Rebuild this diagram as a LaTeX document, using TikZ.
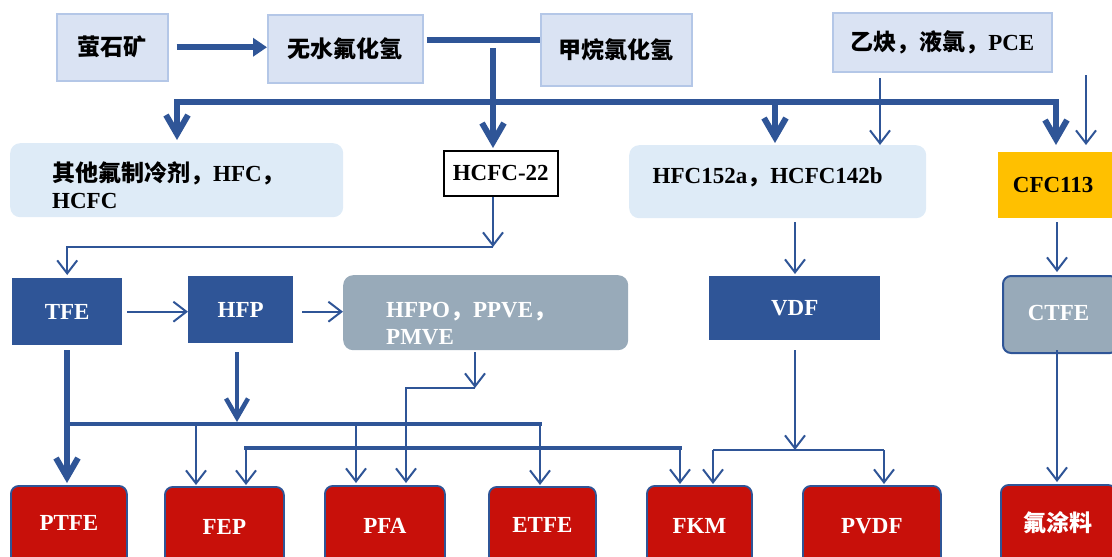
\documentclass[tikz,border=0pt]{standalone}
\usepackage{fontspec}
\setmainfont{Liberation Serif}
\newfontfamily\cjk{Noto Sans CJK SC}
\usetikzlibrary{arrows.meta}
\definecolor{flowblue}{HTML}{2F5597}
\definecolor{paleblue}{HTML}{DAE3F3}
\definecolor{paleedge}{HTML}{B4C7E7}
\definecolor{mistblue}{HTML}{DEEBF7}
\definecolor{slate}{HTML}{98AAB9}
\definecolor{gold}{HTML}{FFC000}
\definecolor{product}{HTML}{C8100A}
\newcommand{\zh}[1]{{\cjk #1}}
\begin{document}
\begin{tikzpicture}[x=1pt,y=-1pt,
  every node/.style={inner sep=0pt, font=\fontsize{23}{27}\selectfont\bfseries},
  blk/.style 2 args={anchor=north west, minimum width=#1, minimum height=#2},
  rawbox/.style={fill=paleblue, draw=paleedge, line width=1.5pt},
  softbox/.style={fill=mistblue, rounded corners=10pt},
  keybox/.style={fill=white, draw=black, line width=1.5pt},
  goldbox/.style={fill=gold},
  monobox/.style={fill=flowblue, text=white},
  greybox/.style={fill=slate, rounded corners=10pt, text=white},
  ctfebox/.style={fill=slate, draw=flowblue, line width=2pt, rounded corners=8pt, text=white},
  prodbox/.style={fill=product, draw=flowblue, line width=1.8pt, rounded corners=8pt, text=white},
  heavy/.style={draw=flowblue, line width=6pt},
  medium/.style={draw=flowblue, line width=4.5pt},
  slim/.style={draw=flowblue, line width=2pt},
  slimtip/.style={-{Straight Barb[length=13pt,width=20pt]}},
  heavytip/.style={-{Straight Barb[length=19pt,width=22pt]}},
  filltip/.style={-{Triangle[length=14pt,width=18pt]}}]

\useasboundingbox (0,0) rectangle (1112,557);
\clip (0,0) rectangle (1112,557);

% raw materials
\node[rawbox, blk={111pt}{67pt}] (ore) at (56,13) {\zh{萤石矿}};
\node[rawbox, blk={155pt}{68pt}] (acid) at (267,14) {\zh{无水氟化氢}};
\node[rawbox, blk={151pt}{72pt}] (methane) at (540,13) {\zh{甲烷氯化氢}};
\node[rawbox, blk={219pt}{59pt}] (pce) at (832,12) {\zh{乙炔，液氯，}PCE};

% intermediates
\node[softbox, blk={333pt}{74pt}] (other) at (10,143) {};
\node[anchor=west, align=left] at ([xshift=42pt,yshift=-5pt]other.west)
  {\zh{其他氟制冷剂，}HFC\zh{，}\\HCFC};
\node[keybox, blk={114pt}{45pt}] (r22) at (443,150) {HCFC-22};
\node[softbox, blk={297pt}{73pt}] (hfc) at (629,145) {};
\node at ([xshift=-10pt,yshift=4pt]hfc.center) {HFC152a\zh{，}HCFC142b};
\node[goldbox, blk={116pt}{66pt}] (cfc) at (998,152) {\hspace*{-3pt}CFC113\hspace*{3pt}};

% monomers
\node[monobox, blk={110pt}{67pt}] (tfe) at (12,278) {TFE};
\node[monobox, blk={105pt}{67pt}] (hfp) at (188,276) {HFP};
\node[greybox, blk={285pt}{75pt}] (hfpo) at (343,275) {};
\node[anchor=west, align=left, text=white] at ([xshift=43pt,yshift=-11pt]hfpo.west)
  {HFPO\zh{，}PPVE\zh{，}\\PMVE};
\node[monobox, blk={171pt}{64pt}] (vdf) at (709,276) {VDF};
\node[ctfebox, blk={115pt}{77pt}] (ctfe) at (1002,275) {\raisebox{4pt}{\hspace*{-2pt}CTFE\hspace*{2pt}}};

% products
\node[prodbox, blk={116pt}{80pt}] (ptfe) at (10,485) {\raisebox{6pt}{PTFE}};
\node[prodbox, blk={119pt}{80pt}] (fep) at (164,486) {FEP};
\node[prodbox, blk={120pt}{80pt}] (pfa) at (324,485) {PFA};
\node[prodbox, blk={107pt}{80pt}] (etfe) at (488,486) {\raisebox{4pt}{ETFE}};
\node[prodbox, blk={105pt}{80pt}] (fkm) at (646,485) {FKM};
\node[prodbox, blk={138pt}{80pt}] (pvdf) at (802,485) {PVDF};
\node[prodbox, blk={115pt}{80pt}] (coat) at (1000,484) {\raisebox{7pt}{\zh{氟涂料}}};

% junction points
\coordinate (drop22) at (493,48);
\coordinate (busL) at (177,102);
\coordinate (busR) at (1056,102);
\coordinate (toHfc) at (775,102);
\coordinate (pceL) at (880,78);
\coordinate (pceR) at (1086,75);
\coordinate (knee22) at (493,247);
\coordinate (hfcOut) at (795,222);
\coordinate (hfpoOut) at (475,352);
\coordinate (hfpoKnee) at (475,388);
\coordinate (pfaDrop) at (406,388);
\coordinate (tfeOut) at (67,350);
\coordinate (hfpOut) at (237,352);
\coordinate (busA) at (67,424);
\coordinate (busAend) at (540,424);
\coordinate (brFep) at (196,424);
\coordinate (brPfa) at (356,424);
\coordinate (busB) at (246,448);
\coordinate (busBend) at (680,448);
\coordinate (vdfOut) at (795,350);
\coordinate (vdfKnee) at (795,450);
\coordinate (vdfL) at (713,450);
\coordinate (vdfR) at (884,450);
\coordinate (colR) at (1057,222);
\coordinate (colR2) at (1057,350);

% raw material connectors
\draw[heavy, filltip] ([xshift=8pt]ore.east) -- (ore.east -| acid.west);
\draw[heavy] ([shift={(3pt,9pt)}]acid.east) -- ([yshift=9pt]acid.east -| methane.west);
\draw[heavy, heavytip] (drop22) -- ([yshift=2pt]drop22 |- r22.north);
\draw[heavy, line cap=rect] (busL) -- (busR);
\draw[heavy, heavytip] (busL) -- ([yshift=3pt]busL |- other.north);
\draw[heavy, heavytip] (toHfc) -- ([yshift=2pt]toHfc |- hfc.north);
\draw[heavy, heavytip] (busR) -- ([yshift=7pt]busR |- cfc.north);
\draw[slim, slimtip] (pceL) -- (pceL |- hfc.north);
\draw[slim, slimtip] (pceR) -- ([yshift=7pt]pceR |- cfc.north);

% monomer connectors
\draw[slim, slimtip] (drop22 |- r22.south) -- (knee22);
\draw[slim, slimtip] (knee22) -| ([yshift=3pt]tfe.north);
\draw[slim, slimtip] ([xshift=5pt]tfe.east) -- (tfe.east -| hfp.west);
\draw[slim, slimtip] ([xshift=9pt,yshift=-2pt]hfp.east) -- ([yshift=-2pt]hfp.east -| hfpo.west);
\draw[slim, slimtip] (hfcOut) -- ([yshift=2pt]hfcOut |- vdf.north);
\draw[slim, slimtip] (colR) -- ([yshift=3pt]colR |- ctfe.north);

% product connectors
\draw[slim, slimtip] (hfpoOut) -- (hfpoKnee);
\draw[slim, slimtip] (hfpoKnee) -- (pfaDrop) -- ([yshift=2pt]pfaDrop |- pfa.north);
\draw[heavy, heavytip] (tfeOut) -- ([yshift=2pt]tfeOut |- ptfe.north);
\draw[medium, line cap=rect] (busA) -- (busAend);
\draw[medium, heavytip] (hfpOut) -- ([yshift=2pt]hfpOut |- busA);
\draw[slim, slimtip] (brFep) -- ([yshift=1pt]brFep |- fep.north);
\draw[slim, slimtip] (brPfa) -- ([yshift=2pt]brPfa |- pfa.north);
\draw[slim, slimtip] (busAend) -- ([yshift=1pt]busAend |- etfe.north);
\draw[medium, line cap=rect] (busB) -- (busBend);
\draw[slim, slimtip] (busB) -- ([yshift=1pt]busB |- fep.north);
\draw[slim, slimtip] (busBend) -- ([yshift=1pt]busBend |- fkm.north);
\draw[slim, slimtip] (vdfOut) -- (vdfKnee);
\draw[slim] (vdfL) -- (vdfR);
\draw[slim, slimtip] (vdfL) -- ([yshift=1pt]vdfL |- fkm.north);
\draw[slim, slimtip] (vdfR) -- ([yshift=1pt]vdfR |- pvdf.north);
\draw[slim, slimtip] (colR2) -- ([yshift=2pt]colR2 |- coat.north);
\end{tikzpicture}
\end{document}
